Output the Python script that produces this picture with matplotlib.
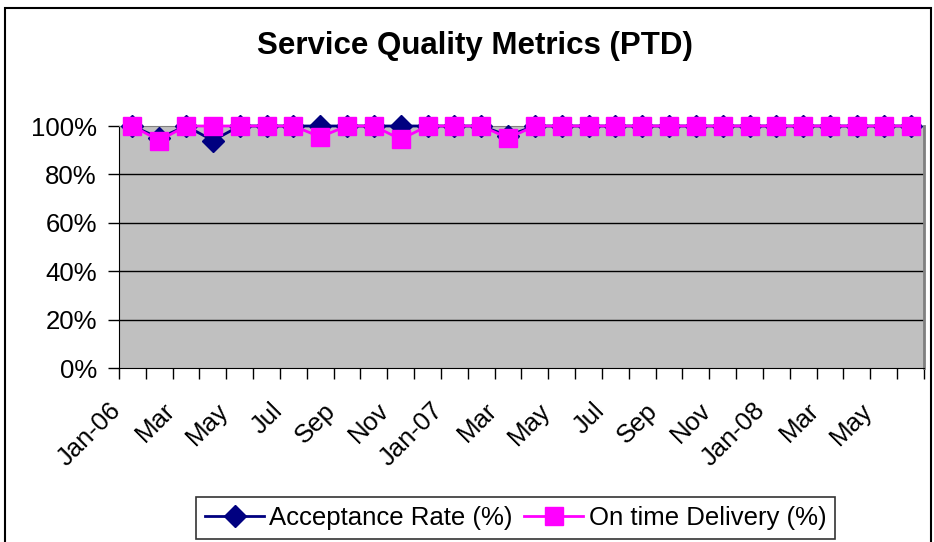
import numpy as np
import matplotlib
matplotlib.use('Agg')
import matplotlib.pyplot as plt
import matplotlib.transforms as mtransforms
from matplotlib.patches import Rectangle
from matplotlib.ticker import PercentFormatter

plt.rcParams['font.family'] = ['Liberation Sans', 'DejaVu Sans']

# Dane
months = ['Jan-06', 'Feb', 'Mar', 'Apr', 'May', 'Jun', 'Jul', 'Aug', 'Sep', 'Oct', 'Nov', 'Dec',
          'Jan-07', 'Feb', 'Mar', 'Apr', 'May', 'Jun', 'Jul', 'Aug', 'Sep', 'Oct', 'Nov', 'Dec',
          'Jan-08', 'Feb', 'Mar', 'Apr', 'May', 'Jun']
acceptance = [1.00, 0.95, 1.00, 0.94, 1.00, 1.00, 1.00, 1.00, 1.00, 1.00,
              1.00, 1.00, 1.00, 1.00, 0.96, 1.00, 1.00, 1.00, 1.00, 1.00,
              1.00, 1.00, 1.00, 1.00, 1.00, 1.00, 1.00, 1.00, 1.00, 1.00]
on_time = [1.00, 0.94, 1.00, 1.00, 1.00, 1.00, 1.00, 0.955, 1.00, 1.00,
           0.945, 1.00, 1.00, 1.00, 0.95, 1.00, 1.00, 1.00, 1.00, 1.00,
           1.00, 1.00, 1.00, 1.00, 1.00, 1.00, 1.00, 1.00, 1.00, 1.00]

W, H = 934, 542
fig = plt.figure(figsize=(W / 100, H / 100), dpi=100)
fig.patch.set_facecolor('white')

# ramka wykresu
fig.patches.append(Rectangle((5 / W, -0.2), 926 / W, 1.2 - 8 / H, transform=fig.transFigure,
                             fill=False, edgecolor='black', linewidth=1.5, clip_on=False))

ax = fig.add_axes([119 / W, 1 - 368 / H, (924 - 119) / W, (368 - 126) / H])
ax.set_facecolor('#C0C0C0')

x = np.arange(len(months))
ax.plot(x, acceptance, color='#000080', linewidth=2, marker='D', markersize=11,
        markerfacecolor='#000080', markeredgecolor='#000080', label='Acceptance Rate (%)',
        clip_on=False, zorder=3)
ax.plot(x, on_time, color='#FF00FF', linewidth=2, marker='s', markersize=13,
        markerfacecolor='#FF00FF', markeredgecolor='#FF00FF', label='On time Delivery (%)',
        clip_on=False, zorder=4)

ax.set_xlim(-0.5, len(months) - 0.5)
ax.set_ylim(0, 1)

# osie
ax.set_yticks(np.arange(0, 1.01, 0.2))
ax.yaxis.set_major_formatter(PercentFormatter(1.0, decimals=0))
for yv in [0.2, 0.4, 0.6, 0.8]:
    ax.axhline(yv, color='black', linewidth=1, zorder=1)
ax.tick_params(axis='y', direction='out', length=8, width=1, pad=8, labelsize=18.5)

ax.set_xticks(np.arange(-0.5, len(months), 1), minor=True)
ax.tick_params(axis='x', which='minor', direction='out', length=8, width=1)
ax.set_xticks(x[::2])
ax.set_xticklabels(months[::2], rotation=45, ha='right', va='center',
                   rotation_mode='anchor', fontsize=18.5)
ax.tick_params(axis='x', which='major', length=0, pad=28)
offset = mtransforms.ScaledTranslation(-15 / 100, 0, fig.dpi_scale_trans)
for lab in ax.get_xticklabels():
    lab.set_transform(lab.get_transform() + offset)

ax.spines['left'].set_color('black')
ax.spines['bottom'].set_color('black')
ax.spines['top'].set_color('#808080')
ax.spines['right'].set_color('#808080')
ax.spines['right'].set_linewidth(2)

fig.text(475 / W, 1 - 46 / H, 'Service Quality Metrics (PTD)', ha='center', va='center',
         fontsize=22.5, fontweight='bold')

leg = fig.legend(loc='upper left', bbox_to_anchor=(196 / W, 1 - 497 / H), ncol=2,
                 fontsize=18.5, frameon=True, fancybox=False, edgecolor='black',
                 handlelength=2.3, handletextpad=0.2, columnspacing=0.45,
                 borderpad=0.35, borderaxespad=0)
leg.get_frame().set_linewidth(1.2)

fig.savefig('out.png', dpi=100)
